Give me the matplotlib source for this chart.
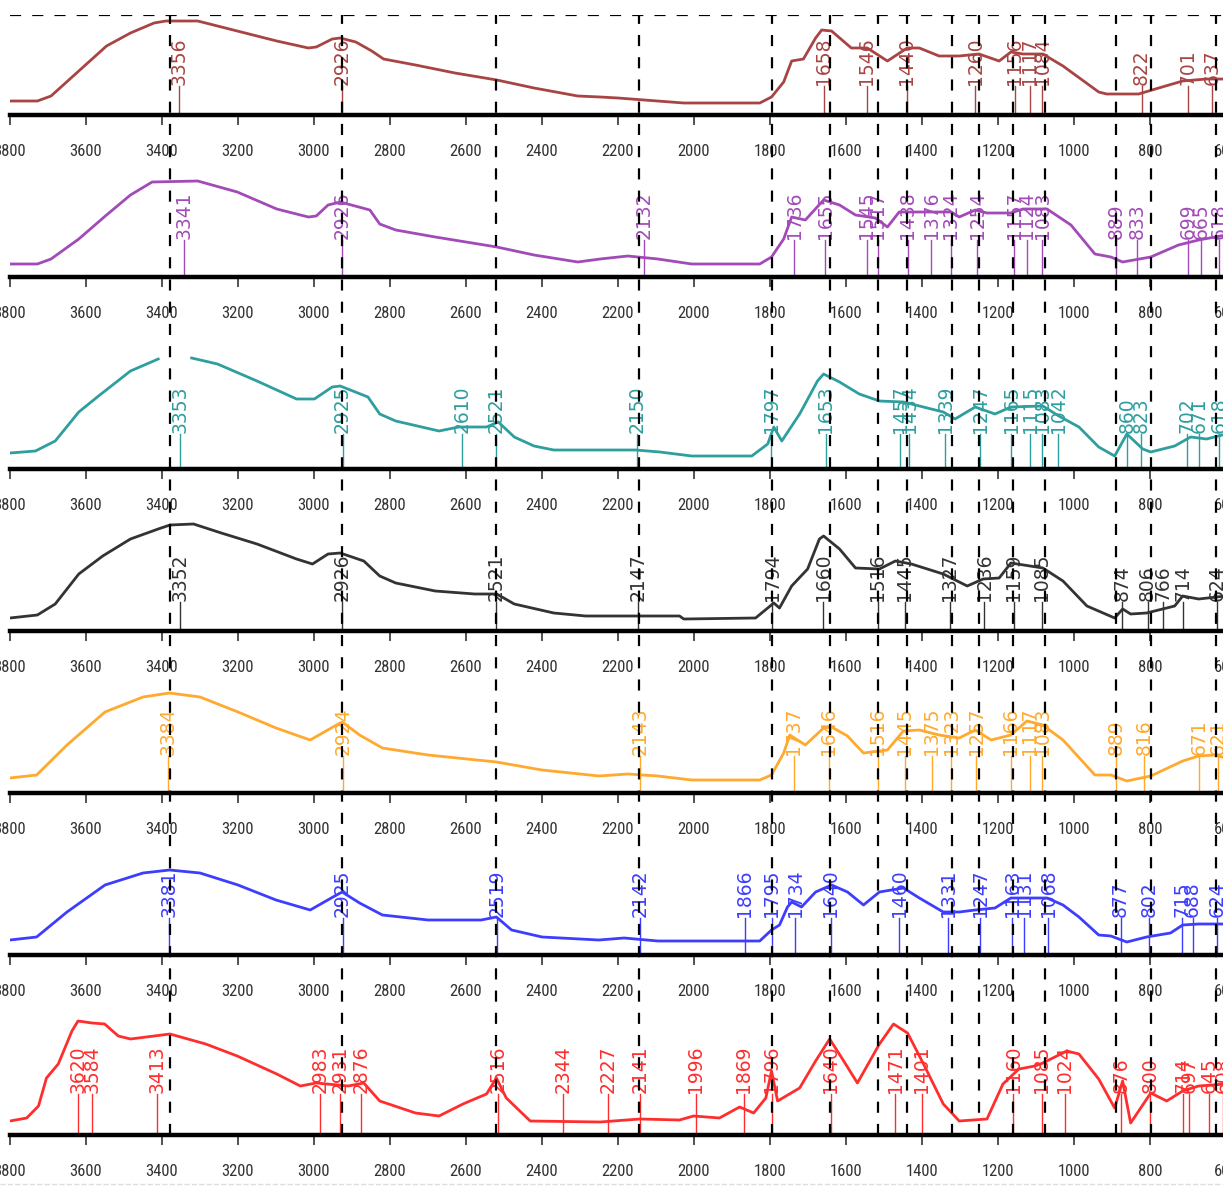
import numpy as np
import matplotlib.pyplot as plt
from matplotlib import font_manager
from matplotlib.lines import Line2D

W, H = 1223, 1189
fig = plt.figure(figsize=(W / 100, H / 100), dpi=100)

# narrow font for tick labels if one is installed
names = {f.name for f in font_manager.fontManager.ttflist}
narrow = [f.name for f in font_manager.fontManager.ttflist
          if f.stretch in ('condensed', 'semi-condensed', 'extra-condensed') and f.style == 'normal']
tick_font = 'DejaVu Sans'
for cand in ['Liberation Sans Narrow', 'Roboto Condensed', 'Open Sans Condensed']:
    if cand in names:
        tick_font = cand
        break
else:
    if narrow:
        tick_font = narrow[0]
tick_size = 12 if tick_font != 'DejaVu Sans' else 10.5

# ---- spectra (wavenumber, intensity) ----
wn1 = [3800, 3728, 3692, 3619, 3546, 3483, 3421, 3390, 3306, 3202, 3098, 3015, 2994, 2952, 2931, 2890,
       2848, 2817, 2733, 2629, 2519, 2421, 2306, 2247, 2200, 2027, 1827, 1796, 1764, 1743, 1712, 1680,
       1664, 1638, 1586, 1544, 1491, 1439, 1407, 1355, 1302, 1250, 1197, 1166, 1134, 1082, 1029, 935,
       914, 830, 777, 714, 651, 600]
ab1 = [14, 14, 19, 44, 69, 82, 92, 94, 94, 84, 74, 67, 68, 76, 77, 73,
       64, 56, 50, 42, 35, 27, 19, 18, 17, 12, 12, 18, 33, 54, 56, 77,
       85, 84, 67, 67, 54, 67, 67, 59, 59, 61, 54, 63, 61, 61, 49, 23,
       21, 21, 27, 34, 36, 36]
pk1 = [3356, 2926, 1658, 1546, 1440, 1260, 1156, 1117, 1084, 822, 701, 637]

wn2 = [3800, 3728, 3692, 3619, 3546, 3483, 3426, 3306, 3202, 3098, 3015, 2994, 2963, 2931, 2853, 2827,
       2785, 2681, 2519, 2421, 2306, 2247, 2174, 2095, 2006, 1827, 1796, 1764, 1743, 1707, 1659, 1617,
       1575, 1523, 1491, 1460, 1323, 1302, 1260, 1229, 1166, 1134, 1071, 1008, 945, 903, 872, 798,
       725, 672, 600]
ab2 = [13, 13, 18, 38, 62, 82, 95, 96, 85, 68, 60, 61, 72, 75, 67, 53,
       47, 40, 30, 22, 15, 18, 21, 18, 13, 13, 20, 38, 60, 57, 77, 72,
       62, 59, 50, 65, 65, 60, 67, 64, 64, 68, 68, 52, 23, 20, 15, 20,
       32, 37, 42]
pk2 = [3341, 2926, 2132, 1736, 1655, 1545, 1517, 1438, 1376, 1324, 1254, 1157, 1124, 1083, 889, 833,
       699, 665, 618]

wn3 = [3800, 3733, 3681, 3619, 3567, 3483, 3410, 3380, 3322, 3254, 3150, 3046, 2999, 2952, 2931, 2858,
       2827, 2785, 2671, 2619, 2546, 2515, 2473, 2421, 2369, 2153, 2090, 2006, 1848, 1806, 1790, 1769,
       1722, 1675, 1659, 1617, 1565, 1512, 1449, 1407, 1344, 1313, 1260, 1208, 1166, 1082, 1040, 987,
       935, 893, 861, 819, 798, 735, 693, 651, 600]
ab3 = [16, 18, 28, 57, 73, 98, 110, np.nan, 111, 105, 88, 70, 70, 82, 83, 72,
       55, 48, 38, 42, 42, 47, 32, 23, 19, 19, 17, 13, 13, 25, 42, 28,
       55, 88, 95, 87, 75, 68, 67, 63, 57, 50, 62, 55, 62, 63, 53, 42,
       22, 13, 35, 20, 17, 23, 32, 30, 35]
pk3 = [3353, 2925, 2610, 2521, 2150, 1797, 1653, 1457, 1434, 1339, 1247, 1165, 1115, 1083, 1042, 860,
       823, 702, 671, 618]

wn4 = [3800, 3728, 3681, 3619, 3556, 3483, 3410, 3379, 3317, 3244, 3150, 3046, 3004, 2963, 2931, 2869,
       2827, 2785, 2681, 2577, 2519, 2473, 2369, 2285, 2202, 2038, 2027, 1838, 1806, 1790, 1775, 1743,
       1701, 1670, 1659, 1617, 1575, 1512, 1470, 1428, 1344, 1281, 1239, 1197, 1166, 1082, 1029, 966,
       893, 872, 851, 809, 735, 714, 672, 600]
ab4 = [13, 16, 27, 57, 75, 92, 102, 106, 107, 98, 87, 72, 67, 77, 78, 70,
       55, 48, 40, 37, 37, 27, 18, 15, 15, 15, 12, 13, 23, 28, 23, 45,
       62, 92, 95, 82, 63, 62, 70, 67, 57, 45, 52, 53, 68, 63, 50, 25,
       13, 22, 17, 18, 25, 35, 32, 35]
pk4 = [3352, 2926, 2521, 2147, 1794, 1660, 1516, 1445, 1327, 1236, 1159, 1085, 874, 806, 766, 714, 624]

wn5 = [3800, 3730, 3650, 3550, 3450, 3380, 3300, 3200, 3100, 3010, 2950, 2926, 2880, 2820, 2700, 2520,
       2400, 2250, 2174, 2095, 2006, 1827, 1796, 1764, 1748, 1707, 1659, 1638, 1596, 1554, 1491, 1449,
       1407, 1355, 1302, 1260, 1218, 1166, 1124, 1082, 1029, 945, 903, 861, 798, 714, 672, 630, 600]
ab5 = [15, 18, 48, 81, 96, 100, 96, 81, 65, 53, 66, 71, 58, 45, 38, 31,
       23, 17, 19, 17, 13, 13, 18, 40, 58, 48, 65, 66, 57, 40, 43, 62,
       63, 58, 55, 63, 53, 58, 72, 68, 53, 18, 18, 12, 17, 32, 37, 38, 35]
pk5 = [3384, 2924, 2143, 1737, 1646, 1516, 1445, 1375, 1323, 1257, 1166, 1117, 1083, 889, 816, 671, 621]

wn6 = [3800, 3730, 3650, 3550, 3450, 3380, 3300, 3200, 3100, 3010, 2950, 2926, 2880, 2820, 2700, 2560,
       2520, 2480, 2400, 2250, 2184, 2095, 1827, 1796, 1775, 1754, 1743, 1717, 1680, 1638, 1596, 1554,
       1512, 1449, 1407, 1344, 1302, 1260, 1208, 1166, 1071, 1029, 987, 935, 903, 861, 809, 746,
       714, 672, 600]
ab6 = [15, 18, 43, 70, 82, 85, 82, 70, 55, 45, 58, 63, 52, 40, 35, 35,
       38, 25, 18, 15, 17, 14, 14, 25, 30, 48, 53, 48, 63, 70, 63, 50,
       63, 67, 57, 43, 43, 45, 47, 57, 57, 50, 38, 20, 19, 13, 18, 22,
       30, 31, 31]
pk6 = [3381, 2925, 2519, 2142, 1866, 1795, 1734, 1640, 1460, 1331, 1247, 1163, 1131, 1068, 877, 802,
       715, 688, 624]

wn7 = [3800, 3756, 3725, 3704, 3673, 3637, 3621, 3584, 3551, 3515, 3483, 3379, 3285, 3202, 3098, 3036,
       2994, 2910, 2869, 2827, 2733, 2671, 2608, 2546, 2520, 2494, 2431, 2247, 2142, 2038, 2001, 1933,
       1880, 1843, 1811, 1796, 1780, 1722, 1680, 1643, 1606, 1570, 1512, 1475, 1438, 1396, 1344, 1302,
       1229, 1187, 1145, 1103, 1082, 1019, 987, 935, 893, 872, 851, 798, 756, 714, 672, 600]
ab7 = [14, 17, 29, 57, 71, 104, 114, 112, 111, 99, 96, 101, 91, 79, 61, 49,
       52, 49, 52, 34, 22, 19, 31, 41, 57, 37, 14, 13, 16, 15, 19, 17,
       28, 22, 37, 64, 34, 47, 74, 96, 74, 52, 91, 111, 102, 71, 31, 14,
       16, 51, 66, 69, 72, 84, 81, 56, 27, 54, 12, 42, 34, 44, 49, 51]
pk7 = [3620, 3584, 3413, 2983, 2931, 2876, 2516, 2344, 2227, 2141, 1996, 1869, 1796, 1640, 1471, 1401,
       1160, 1085, 1024, 876, 800, 714, 697, 645, 608]

colors = ['#A84444', '#A24BB8', '#2E9E9E', '#333333', '#FFA92E', '#3D3DFF', '#FF2E2E']

# reference wavenumbers marked with dashed lines across all panels
dashed = [3380, 2926, 2521, 2146, 1795, 1642, 1516, 1439, 1321, 1250, 1160, 1077, 889, 797, 626]

# panel boxes in pixels: (top, baseline), and label base above baseline
boxes = [(15, 115), (165, 277), (330, 469), (515, 631), (675, 793), (840, 955), (1000, 1135)]
label_h = [30, 38, 36, 30, 38, 38, 42]

spectra = [(wn1, ab1, pk1), (wn2, ab2, pk2), (wn3, ab3, pk3), (wn4, ab4, pk4),
           (wn5, ab5, pk5), (wn6, ab6, pk6), (wn7, ab7, pk7)]

X0, X1 = 10, 1226


def px_axes(top, bottom):
    return fig.add_axes([X0 / W, 1 - bottom / H, (X1 - X0) / W, (bottom - top) / H])


for i, (wn, ab, pk) in enumerate(spectra):
    top, base = boxes[i]
    c = colors[i]
    ax = px_axes(top, base)
    ax.plot(wn, ab, color=c, lw=2)
    lh = label_h[i]
    for p in pk:
        ax.plot([p, p], [0, lh - 1], color=c, lw=1)
        ax.text(p, lh, str(p), rotation=90, ha='center', va='bottom', color=c, fontsize=13.5)
    ax.set_xlim(3800, 600)
    ax.set_ylim(0, base - top)
    for s in ['left', 'right', 'top']:
        ax.spines[s].set_visible(False)
    ax.spines['bottom'].set_linewidth(3.2)
    ax.set_yticks([])
    ax.set_xticks(range(3800, 599, -200))
    ax.tick_params(axis='x', direction='out', length=7, width=1.2, pad=14, colors='#333333')
    for lab in ax.get_xticklabels():
        lab.set_fontfamily(tick_font)
        lab.set_fontsize(tick_size)
    ax.patch.set_visible(False)

# dashed overlay
ov = px_axes(15, 1135)
ov.set_xlim(3800, 600)
ov.set_ylim(0, 1)
ov.axis('off')
ov.patch.set_visible(False)
ov.set_zorder(10)
for d in dashed:
    ov.axvline(d, color='black', lw=1.6, ls=(0, (5, 5)))
ov.axhline(1, color='black', lw=1.6, ls=(0, (5, 5)))

fig.add_artist(Line2D([0, 1], [1 - 1184 / H] * 2, transform=fig.transFigure,
                      color='#dddddd', lw=1, ls='--'))

fig.savefig('out.png', dpi=100)
